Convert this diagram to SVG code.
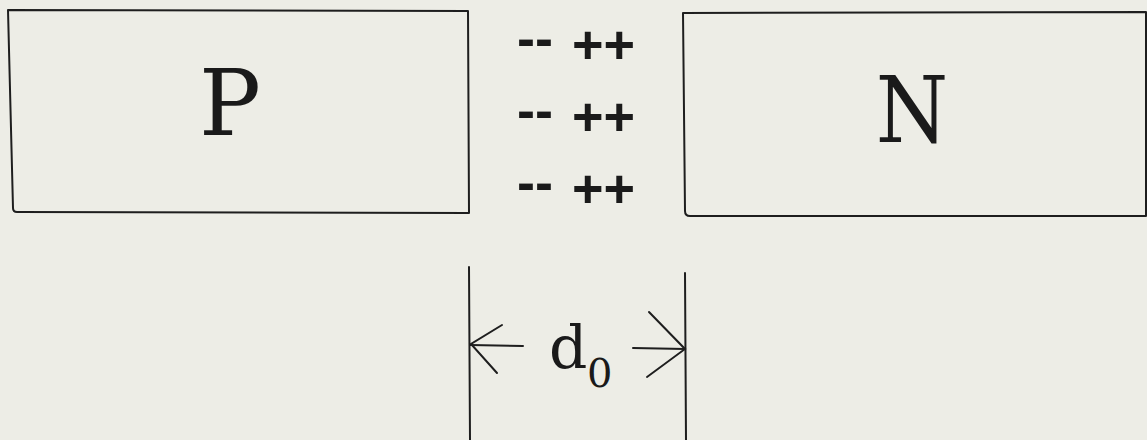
<svg xmlns="http://www.w3.org/2000/svg" width="1147" height="440" viewBox="0 0 1147 440">
<style>
.bg{fill:#edede6}
.box{fill:none;stroke:#1e1e1e;stroke-width:2;stroke-linejoin:round}
.ln{fill:none;stroke:#1e1e1e;stroke-width:2;stroke-linecap:round}
.serif{font-family:'DejaVu Serif','Liberation Serif',serif;fill:#1a1a1a}
.chg{font-family:'Liberation Sans',Arial,sans-serif;font-size:54px;font-weight:bold;fill:#1a1a1a}
</style>
<rect class="bg" x="0" y="0" width="1147" height="440"/>
<g id="node-p">
<path class="box" d="M8,10 L468,11 L469,213 L17,212 Q13,212 13,208 Z"/>
<text class="serif" x="230" y="135" text-anchor="middle" font-size="92">P</text>
</g>
<g id="node-n">
<path class="box" d="M683,13 L1146,12 L1146,216 L690,216 Q685,216 685,211 Z"/>
<text class="serif" transform="translate(912,142) scale(0.9,1)" x="0" y="0" text-anchor="middle" font-size="92">N</text>
</g>
<g id="charges">
<text class="chg" x="517" y="57">--</text><text class="chg" x="572" y="63">++</text>
<text class="chg" x="517" y="129">--</text><text class="chg" x="572" y="135">++</text>
<text class="chg" x="517" y="201">--</text><text class="chg" x="572" y="207">++</text>
</g>
<g id="connectors">
<path class="ln" d="M469,267 L470,440"/>
<path class="ln" d="M685,273 L686,440"/>
<path class="ln" d="M470,345 L523,346"/>
<path class="ln" d="M502,325 L471,344 L497,373"/>
<path class="ln" d="M633,348 L685,349"/>
<path class="ln" d="M649,312 L685,349 L647,377"/>
</g>
<g id="label-d0">
<text class="serif" x="549" y="368" font-size="60">d</text>
<text class="serif" x="587" y="387" font-size="40">0</text>
</g>
</svg>
